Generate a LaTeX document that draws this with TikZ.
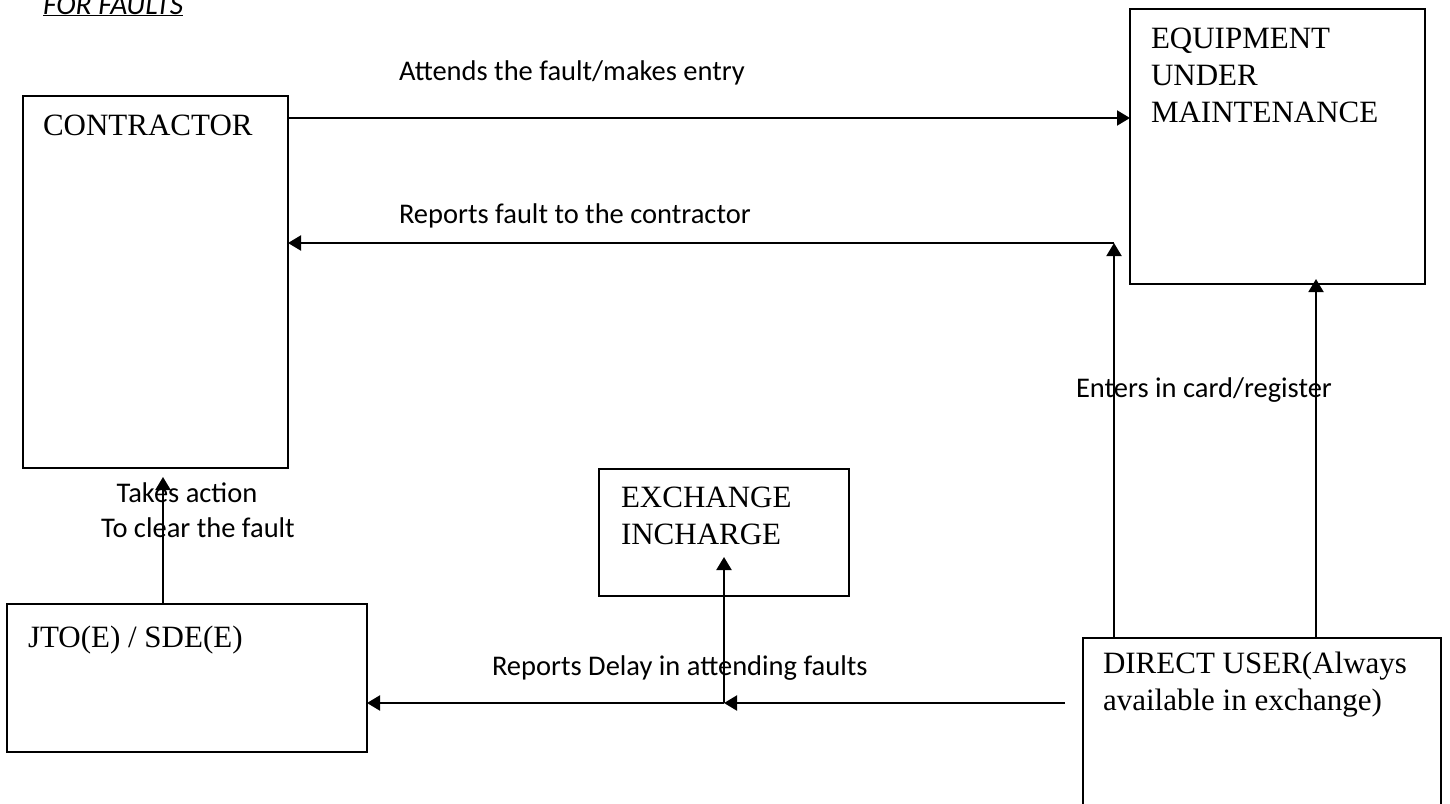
\documentclass[tikz,border=0pt]{standalone}
\usepackage{fontspec}
\setmainfont{Liberation Serif}
\newfontfamily\notefamily{Carlito}
\usetikzlibrary{arrows.meta}
\newcommand{\boxfont}{\fontsize{31}{37}\selectfont}
\newcommand{\notefont}{\notefamily\fontsize{28.5}{35}\selectfont}
\begin{document}
\begin{tikzpicture}[x=1pt,y=-1pt,line width=2pt,
    box/.style={draw,inner sep=0pt,outer sep=0pt,anchor=north west},
    boxtext/.style={font=\boxfont,align=left,inner sep=0pt,anchor=base west},
    note/.style={font=\notefont,align=center,inner sep=0pt,anchor=base west},
    flow/.style={-{Triangle[length=13pt,width=15pt]}}]
\clip (0,0) rectangle (1450,803);

% Heading
\node[note,font=\notefamily\fontsize{29.5}{35}\selectfont\itshape] (title) at (42,14) {\underline{FOR FAULTS}};

% Boxes
\node[box,minimum width=265pt,minimum height=372pt] (contractor) at (23,96) {};
\node[box,minimum width=295pt,minimum height=275pt] (equip) at (1130,9) {};
\node[box,minimum width=250pt,minimum height=127pt] (exchange) at (599,469) {};
\node[box,minimum width=360pt,minimum height=148pt] (jto) at (7,604) {};
\node[box,minimum width=358pt,minimum height=220pt] (user) at (1083,638) {};

% Box texts (base = last line)
\node[boxtext] (contractortext) at (42,135) {CONTRACTOR};
\node[boxtext] (equiptext) at (1150,122) {EQUIPMENT\\UNDER\\MAINTENANCE};
\node[boxtext] (exchangetext) at (620,544) {EXCHANGE\\INCHARGE};
\node[boxtext] (jtotext) at (27,647) {JTO(E) / SDE(E)};
\node[boxtext] (usertext) at (1102,710) {DIRECT USER(Always\\available in exchange)};

% Bend points
\coordinate (corner) at (1114,243);
\coordinate (enter) at (1316,279);
\coordinate (split) at (724,703);
\coordinate (userend) at (1065,703);
\coordinate (exin) at (724,557);
\coordinate (act) at (163,477);

% Connections
\draw[flow] ([yshift=-22pt]contractor.north east) -- ([yshift=-22pt]contractor.north east -| equip.west);
\draw[flow] (user.north -| corner) -- (corner);
\draw[flow] (corner) -- (corner -| contractor.east);
\draw[flow] (user.north -| enter) -- (enter);
\draw[flow] (userend) -- (split);
\draw[flow] (split) -- (split -| jto.east);
\draw[flow] (split) -- (exin);
\draw[flow] (jto.north -| act) -- (act);

% Labels
\node[note] (attends) at (398,80) {Attends the fault/makes entry};
\node[note] (reports) at (398,223) {Reports fault to the contractor};
\node[note,anchor=base] (takes) at (198,537) {Takes action\hspace*{22pt}\\To clear the fault};
\node[note] (delay) at (491,675) {Reports Delay in attending faults};
\node[note] (enters) at (1075,397) {Enters in card/register};
\end{tikzpicture}
\end{document}
